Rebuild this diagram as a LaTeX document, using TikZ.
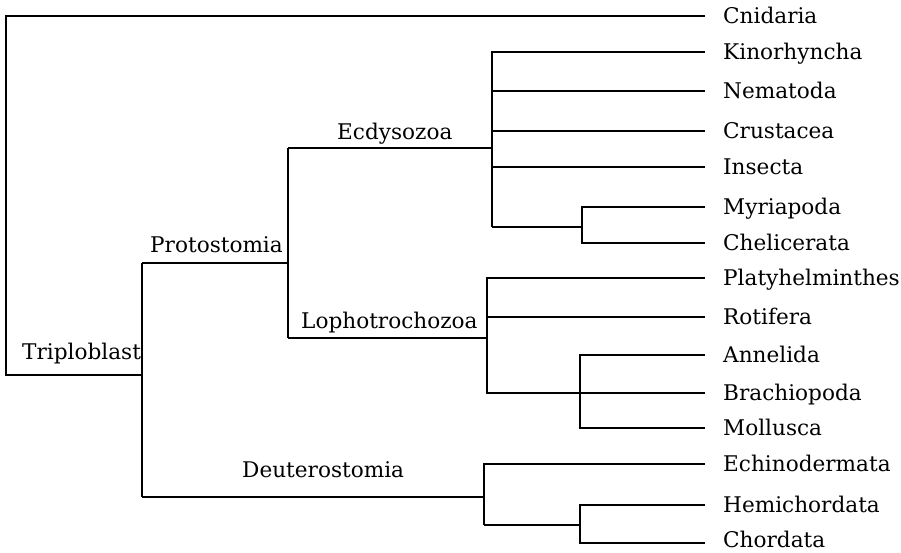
\documentclass[tikz,border=0pt]{standalone}
\usepackage{fontspec}
\setmainfont{DejaVu Serif}
\begin{document}
\begin{tikzpicture}[x=1pt,y=-1pt,
  br/.style={line width=2pt,black,line join=miter},
  leaf/.style={anchor=base west,inner sep=0pt,font=\fontsize{21.6}{24}\selectfont},
  clade/.style={anchor=base west,inner sep=0pt,font=\fontsize{21.6}{24}\selectfont}]
\useasboundingbox (0,0) rectangle (901,552);
% branch points
\coordinate (R) at (6,375);
\coordinate (T) at (142,375);
\coordinate (P) at (142,263);
\coordinate (Pv) at (288,263);
\coordinate (E) at (288,148);
\coordinate (Ev) at (492,148);
\coordinate (MC) at (492,227);
\coordinate (MCv) at (582,227);
\coordinate (L) at (288,338);
\coordinate (Lv) at (487,338);
\coordinate (AB) at (487,393);
\coordinate (ABv) at (580,393);
\coordinate (D) at (142,497);
\coordinate (Dv) at (484,497);
\coordinate (HC) at (484,525);
\coordinate (HCv) at (580,525);
% leaf ends
\def\xe{705}
\coordinate (cni) at (\xe,16);
\coordinate (kin) at (\xe,52);
\coordinate (nem) at (\xe,91);
\coordinate (cru) at (\xe,131);
\coordinate (ins) at (\xe,167);
\coordinate (myr) at (\xe,207);
\coordinate (che) at (\xe,243);
\coordinate (pla) at (\xe,278);
\coordinate (rot) at (\xe,317);
\coordinate (ann) at (\xe,355);
\coordinate (bra) at (\xe,393);
\coordinate (mol) at (\xe,428);
\coordinate (ech) at (\xe,464);
\coordinate (hem) at (\xe,505);
\coordinate (cho) at (\xe,543);
% branches
\draw[br] (cni) -| (R) -- (T);
\draw[br] (P) |- (D);
\draw[br] (P) -- (Pv);
\draw[br] (E) |- (L);
\draw[br] (E) -- (Ev);
\draw[br] (kin) -| (Ev) |- (MC);
\draw[br] (Ev |- nem) -- (nem);
\draw[br] (Ev |- cru) -- (cru);
\draw[br] (Ev |- ins) -- (ins);
\draw[br] (MC) -- (MCv);
\draw[br] (myr) -| (MCv) |- (che);
\draw[br] (L) -- (Lv);
\draw[br] (pla) -| (Lv) |- (bra);
\draw[br] (Lv |- rot) -- (rot);
\draw[br] (ann) -| (ABv) |- (mol);
\draw[br] (D) -- (Dv);
\draw[br] (ech) -| (Dv) |- (HC);
\draw[br] (HC) -- (HCv);
\draw[br] (hem) -| (HCv) |- (cho);
% leaf labels
\def\xl{723}
\def\dy{7.9}
\node[leaf] (tcni) at (\xl,16+\dy) {Cnidaria};
\node[leaf] (tkin) at (\xl,52+\dy) {Kinorhyncha};
\node[leaf] (tnem) at (\xl,91+\dy) {Nematoda};
\node[leaf] (tcru) at (\xl,131+\dy) {Crustacea};
\node[leaf] (tins) at (\xl,167+\dy) {Insecta};
\node[leaf] (tmyr) at (\xl,207+\dy) {Myriapoda};
\node[leaf] (tche) at (\xl,243+\dy) {Chelicerata};
\node[leaf] (tpla) at (\xl,278+\dy) {Platyhelminthes};
\node[leaf] (trot) at (\xl,317+\dy) {Rotifera};
\node[leaf] (tann) at (\xl,355+\dy) {Annelida};
\node[leaf] (tbra) at (\xl,393+\dy) {Brachiopoda};
\node[leaf] (tmol) at (\xl,428+\dy) {Mollusca};
\node[leaf] (tech) at (\xl,464+\dy) {Echinodermata};
\node[leaf] (them) at (\xl,505+\dy) {Hemichordata};
\node[leaf] (tcho) at (\xl,547) {Chordata};
% clade labels
\node[clade] (ttri) at (22,359) {Triploblast};
\node[clade] (tpro) at (150,252) {Protostomia};
\node[clade] (tecd) at (337,139) {Ecdysozoa};
\node[clade] (tlop) at (301,328) {Lophotrochozoa};
\node[clade] (tdeu) at (242,477) {Deuterostomia};
\end{tikzpicture}
\end{document}
